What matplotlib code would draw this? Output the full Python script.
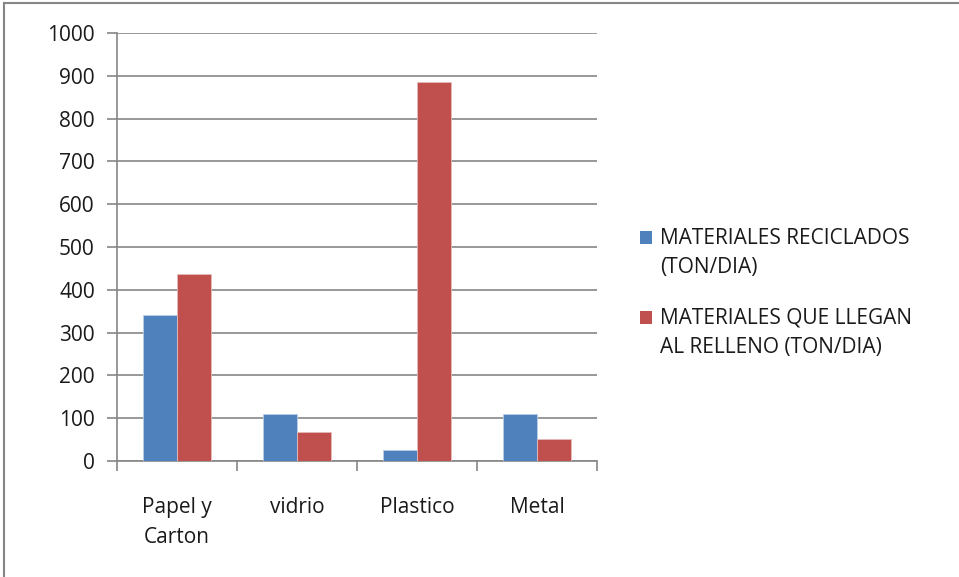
import matplotlib.pyplot as plt
import numpy as np
from matplotlib.patches import Rectangle

categorias = ["Papel y\nCarton", "vidrio", "Plastico", "Metal"]
reciclados = [340, 110, 25, 110]
relleno = [437, 67, 886, 52]
etiquetas = ["MATERIALES RECICLADOS\n(TON/DIA)", "MATERIALES QUE LLEGAN\nAL RELLENO (TON/DIA)"]

azul = "#4f81bd"
rojo = "#c0504d"
gris = "#868686"
texto = "#1a1a1a"

plt.rcParams["font.family"] = ["Open Sans", "DejaVu Sans"]
plt.rcParams["text.color"] = texto

W, H = 959, 577
fig = plt.figure(figsize=(W / 100, H / 100), dpi=100)
ax = fig.add_axes([0.122, 0.201, 0.5006, 0.7418])

x = np.arange(len(categorias))
ancho = 0.286
ax.bar(x - ancho / 2, reciclados, ancho, color=azul, edgecolor="#b9cde5", linewidth=0.6, zorder=3)
ax.bar(x + ancho / 2, relleno, ancho, color=rojo, edgecolor="#e6b9b8", linewidth=0.6, zorder=3)

ax.set_xlim(-0.5, len(categorias) - 0.5)
ax.set_ylim(0, 1000)
ax.set_yticks(range(0, 1001, 100))
ax.yaxis.grid(True, color=gris, linewidth=1.2, zorder=0)
ax.tick_params(axis="y", length=7, width=1.2, color=gris, labelsize=15, pad=9,
               labelcolor=texto)

# ticks between categories, labels centered under each group
ax.set_xticks(np.arange(-0.5, len(categorias), 1))
ax.set_xticklabels([])
ax.set_xticks(x, minor=True)
ax.set_xticklabels(categorias, minor=True, fontsize=15, linespacing=1.55)
ax.tick_params(axis="x", which="major", length=7, width=1.2, color=gris)
ax.tick_params(axis="x", which="minor", length=0, pad=26, labelcolor=texto)

for lado in ["top", "right"]:
    ax.spines[lado].set_visible(False)
for lado in ["left", "bottom"]:
    ax.spines[lado].set_color(gris)
    ax.spines[lado].set_linewidth(1.2)

# legend: square next to the first line of each label
colores = [azul, rojo]
filas = [237, 317]
for color, etiqueta, fila in zip(colores, etiquetas, filas):
    fig.add_artist(Rectangle((640 / W, 1 - (fila + 7) / H), 12 / W, 13 / H,
                             transform=fig.transFigure, facecolor=color, edgecolor="none"))
    fig.text(660 / W, 1 - (fila + 15.5) / H, etiqueta, fontsize=15, va="center",
             ha="left", linespacing=1.5)

# chart area border
fig.add_artist(plt.Line2D([0.004, 0.004], [0, 0.995], color=gris, linewidth=1.5))
fig.add_artist(plt.Line2D([0.004, 1], [0.995, 0.995], color=gris, linewidth=1.5))

fig.savefig("out.png", dpi=100)
